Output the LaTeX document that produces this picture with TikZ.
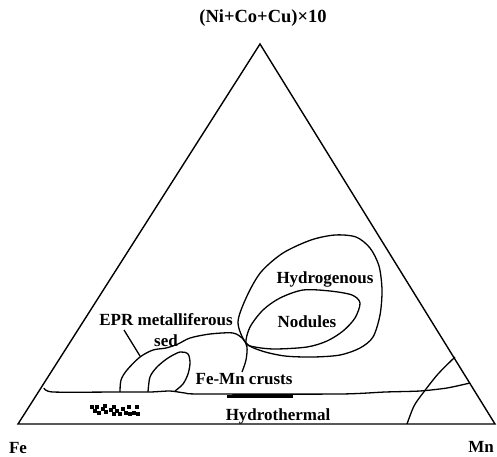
\documentclass[tikz,border=0pt]{standalone}
\usepackage{fontspec}
\setmainfont{Liberation Serif}
\begin{document}
\begin{tikzpicture}[x=1pt,y=-1pt,line width=1.4pt,
  lbl/.style={font=\fontsize{17}{20}\selectfont\bfseries,inner sep=0pt,anchor=base},
  fieldline/.style={line width=1.3pt,line join=round},
  blob/.style={fill=black}]
\useasboundingbox (0,0) rectangle (497,456);
% triangle
\coordinate (Fe) at (18,424);
\coordinate (Mn) at (495,424);
\coordinate (Top) at (260,44);
\draw (Fe) -- (Top) -- (Mn) -- cycle;
% corner labels
\node[lbl] (lFe) at (18,453) {Fe};
\node[lbl] (lMn) at (481,452) {Mn};
\node[lbl,font=\fontsize{18.5}{21}\selectfont\bfseries] (lTop) at (263,22) {(Ni+Co+Cu)×10};
% hydrothermal boundary
\draw[fieldline] plot[smooth,tension=0.4] coordinates {(44,388) (53,392) (120,392) (150,392) (170,391) (185,393) (200,394) (340,394) (385,392) (420,391) (447,388) (470,383)};
\draw[line width=3pt] (227,396) -- (293,396);
% right corner curve
\draw[fieldline] plot[smooth] coordinates {(407,424) (414,406) (423,393) (438,374) (455,357)};
% EPR metalliferous sediment field
\draw[fieldline] plot[smooth] coordinates {(120,392) (121,380) (127,370) (140,357) (153,350) (166,348) (178,344) (190,338) (210,334) (233,333) (243,339) (247,347) (246,360) (242,372)};
\draw[fieldline] (124,330) -- (140,356);
% small inner field
\draw[fieldline] plot[smooth] coordinates {(148,392) (150,377) (157,367) (168,358) (180,352) (188,354) (190,363) (188,374) (183,384) (175,391)};
% hydrogenous field
\draw[fieldline] plot[smooth cycle] coordinates {(238,322) (247,296) (261,272) (283,253) (311,240) (335,235) (356,237) (370,248) (379,266) (382,290) (380,315) (373,337) (360,348) (340,355) (313,357) (285,356) (262,351) (246,343)};
% nodules field
\draw[fieldline] plot[smooth cycle] coordinates {(246,343) (250,327) (263,310) (280,298) (303,290) (330,291) (352,295) (360,303) (355,318) (343,331) (327,341) (307,347) (275,349) (255,347)};
% labels
\node[lbl] (lHyd) at (325,283) {Hydrogenous};
\node[lbl] (lNod) at (307,327) {Nodules};
\node[lbl] (lEPR) at (166,325) {EPR metalliferous};
\node[lbl] (lSed) at (166,346) {sed};
\node[lbl] (lCrust) at (244,384) {Fe-Mn crusts};
\node[lbl] (lHth) at (278,420) {Hydrothermal};
% sample cluster
\foreach \p in {(90,405),(95,405),(93,409),(97,411),(101,407),(104,410),(103,404),(109,408),(112,405),(115,409),(118,412),(112,412),(124,411),(128,412),(132,411),(136,412),(127,405),(135,405),(121,407)}
  \fill[blob] \p rectangle ++(4,4);
\end{tikzpicture}
\end{document}
